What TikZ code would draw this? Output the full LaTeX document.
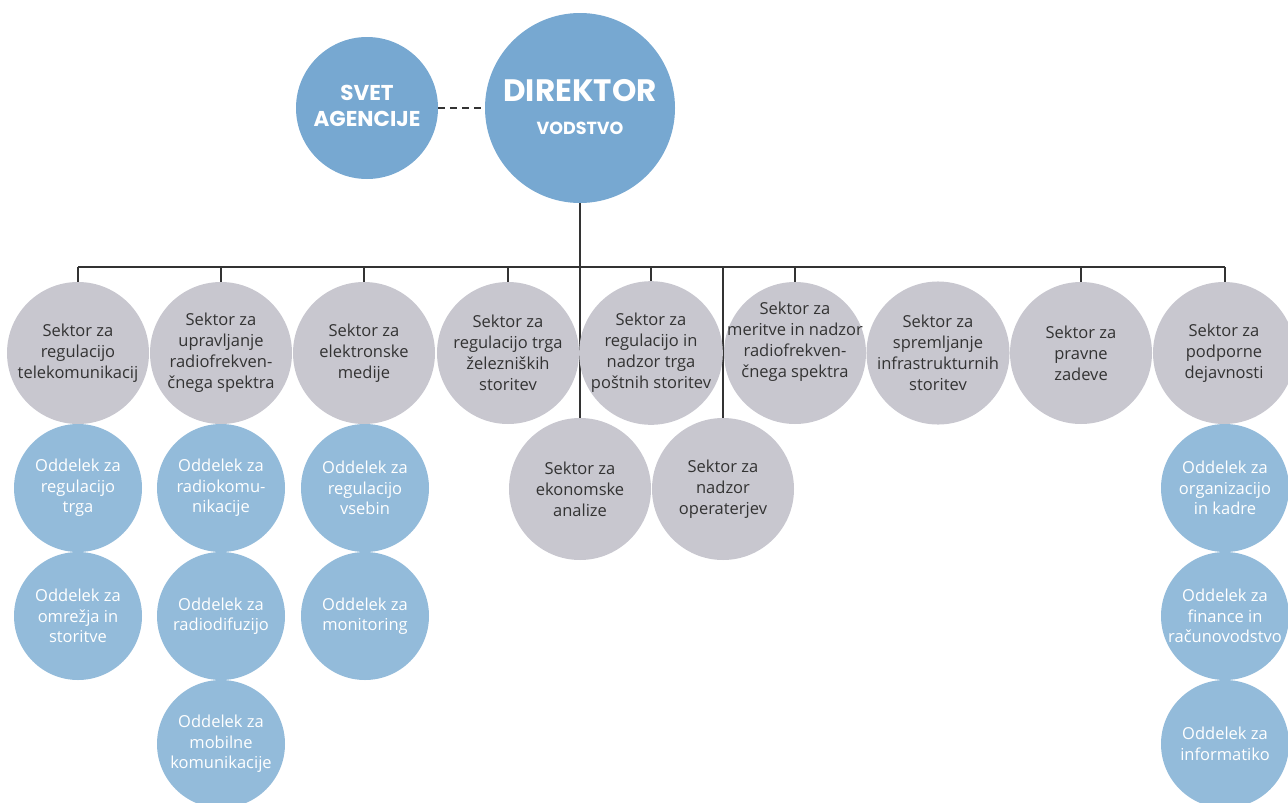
\documentclass[tikz,border=0pt]{standalone}
\usepackage{fontspec}
\setmainfont{Open Sans}
\newfontfamily\poppins{Poppins}
\usetikzlibrary{backgrounds}
\definecolor{dirblue}{HTML}{77A8D1}
\definecolor{deptblue}{HTML}{93BBDA}
\definecolor{secgray}{HTML}{C8C7CF}
\definecolor{sectext}{HTML}{333333}
\definecolor{linecol}{HTML}{333333}
\tikzset{
  sect/.style={circle, fill=secgray, minimum size=142pt, inner sep=0pt, align=center,
    text=sectext, font=\fontsize{16.5}{21}\selectfont},
  secttxt/.style={inner sep=0pt, align=center, text=sectext, font=\fontsize{16.5}{21}\selectfont},
  dept/.style={circle, fill=deptblue, minimum size=128pt, inner sep=0pt, align=center,
    text=white, font=\fontsize{16.5}{20.5}\selectfont},
  headc/.style={circle, fill=dirblue, inner sep=0pt},
  headtxt/.style={text=white, inner sep=0pt, anchor=base},
  conn/.style={draw=linecol, line width=2pt},
  dashconn/.style={draw=linecol, line width=2pt, dash pattern=on 7pt off 5pt}
}
\begin{document}
\begin{tikzpicture}[x=1pt,y=-1pt]
\useasboundingbox (0,0) rectangle (1288,803);
% leadership
\node[headc, minimum size=142pt] (svet) at (367,108) {};
\node[headc, minimum size=190pt] (dir) at (580,108) {};
\node[headtxt, font=\poppins\bfseries\fontsize{21.5}{26}\selectfont] (svet1) at (367,100) {SVET};
\node[headtxt, font=\poppins\bfseries\fontsize{21.5}{26}\selectfont] (svet2) at (367,126) {AGENCIJE};
\node[headtxt, font=\poppins\bfseries\fontsize{31}{34}\selectfont] (dirt) at (580,101) {DIREKTOR};
\node[headtxt, font=\poppins\bfseries\fontsize{17.5}{20}\selectfont] (dirs) at (580,134) {VODSTVO};
% sectors
\node[sect] (s1) at (78,353) {Sektor za\\regulacijo\\telekomunikacij};
\node[sect] (s2) at (221,353) {Sektor za\\upravljanje\\radiofrekven-\\čnega spektra};
\node[sect] (s3) at (364,353) {Sektor za\\elektronske\\medije};
\node[sect] (s4) at (508,353) {Sektor za\\regulacijo trga\\železniških\\storitev};
\node[sect] (s5) at (651,353) {Sektor za\\regulacijo in\\nadzor trga\\poštnih storitev};
\node[sect] (s6) at (795,353) {};
\node[secttxt] (s6t) at (795,342) {Sektor za\\meritve in nadzor\\radiofrekven-\\čnega spektra};
\node[sect] (s7) at (938,353) {Sektor za\\spremljanje\\infrastrukturnih\\storitev};
\node[sect] (s8) at (1081,353) {Sektor za\\pravne\\zadeve};
\node[sect] (s9) at (1224,353) {Sektor za\\podporne\\dejavnosti};
\node[sect] (e1) at (580,489) {Sektor za\\ekonomske\\analize};
\node[sect] (e2) at (723,489) {Sektor za\\nadzor\\operaterjev};
% departments
\node[dept] (d11) at (78,488) {Oddelek za\\regulacijo\\trga};
\node[dept] (d12) at (78,616) {Oddelek za\\omrežja in\\storitve};
\node[dept] (d21) at (221,488) {Oddelek za\\radiokomu-\\nikacije};
\node[dept] (d22) at (221,616) {Oddelek za\\radiodifuzijo};
\node[dept] (d23) at (221,744) {Oddelek za\\mobilne\\komunikacije};
\node[dept] (d31) at (365,488) {Oddelek za\\regulacijo\\vsebin};
\node[dept] (d32) at (365,616) {Oddelek za\\monitoring};
\node[dept] (d91) at (1225,488) {Oddelek za\\organizacijo\\in kadre};
\node[dept] (d92) at (1225,616) {Oddelek za\\finance in\\računovodstvo};
\node[dept] (d93) at (1225,744) {Oddelek za\\informatiko};
% connectors
\coordinate (bus) at (580,267);
\begin{scope}[on background layer]
\draw[dashconn] (svet.east) -- (dir.west);
\draw[conn] (dir.south) -- (e1.north);
\draw[conn] (s1.north |- bus) -- ([xshift=1pt]s9.north |- bus);
\foreach \s in {s1,s2,s3,s4,s5,s6,s8} {
  \draw[conn] (\s.north) -- (\s.north |- bus);
}
\draw[conn] ([xshift=1pt]s9.north) -- ([xshift=1pt]s9.north |- bus);
\draw[conn] (e2.north) -- (e2.north |- bus);
\end{scope}
\end{tikzpicture}
\end{document}
